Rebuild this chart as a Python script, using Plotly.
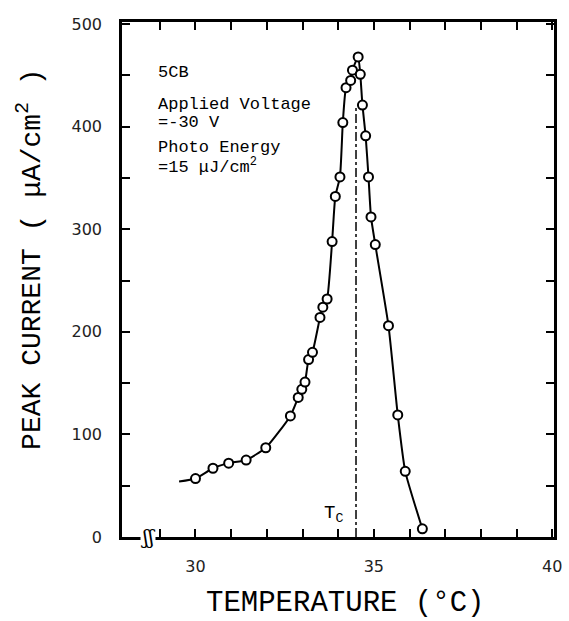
import plotly.graph_objects as go

# readings: temperature (deg C) vs peak current (uA/cm2)
temp_rise = [30.0, 30.49, 30.93, 31.42, 31.97, 32.66, 32.88, 32.98, 33.07, 33.17, 33.28,
             33.49, 33.57, 33.69, 33.83, 33.92, 34.05, 34.13, 34.22, 34.35, 34.40, 34.56]
current_rise = [57, 67, 72, 75, 87, 118, 136, 144, 151, 173, 180,
                214, 224, 232, 288, 332, 351, 404, 438, 445, 455, 468]
temp_fall = [34.62, 34.68, 34.77, 34.85, 34.92, 35.04, 35.41, 35.67, 35.88, 36.36]
current_fall = [451, 421, 391, 351, 312, 285, 206, 119, 64, 8]

# hand-drawn curve begins a little left of the first reading
curve_start_t = [29.54]
curve_start_i = [54]

tc = 34.5
tc_line_top = 420

info_lines = ["5CB", "Applied Voltage", "=-30 V", "Photo Energy", "=15 μJ/cm<sup>2</sup>"]
info_y = [453, 422, 404, 380, 362]

mono = "Liberation Mono"

fig = go.Figure()

fig.add_trace(go.Scatter(
    x=curve_start_t + temp_rise + temp_fall,
    y=curve_start_i + current_rise + current_fall,
    mode="lines",
    line=dict(color="black", width=2, shape="spline", smoothing=0.5),
    hoverinfo="skip",
))
fig.add_trace(go.Scatter(
    x=temp_rise + temp_fall,
    y=current_rise + current_fall,
    mode="markers",
    marker=dict(symbol="circle", size=9, color="white", line=dict(color="black", width=2)),
))

fig.add_shape(type="line", x0=tc, x1=tc, y0=0, y1=tc_line_top, xref="x", yref="y",
              line=dict(color="black", width=1.5, dash="dashdot"))

fig.add_annotation(x=33.88, y=22, text="T<sub>C</sub>", showarrow=False,
                   font=dict(family=mono, size=19, color="black"))

for txt, yv in zip(info_lines, info_y):
    fig.add_annotation(x=28.9, y=yv, text=txt, showarrow=False, xanchor="left", yanchor="middle",
                       font=dict(family=mono, size=17, color="black"))

# axis break mark
fig.add_annotation(x=28.66, y=0, text="ʃʃ", showarrow=False, bgcolor="white",
                   font=dict(family="DejaVu Serif", size=20, color="black"), borderpad=0)

# axis titles
fig.add_annotation(x=0.5155, y=-0.13, xref="paper", yref="paper", text="TEMPERATURE (°C)",
                   showarrow=False, xanchor="center", yanchor="middle",
                   font=dict(family=mono, size=29, color="black"))
fig.add_annotation(x=-0.213, y=0.54, xref="paper", yref="paper", text="PEAK CURRENT ( μA/cm<sup>2</sup> )",
                   textangle=-90, showarrow=False, xanchor="center", yanchor="middle",
                   font=dict(family=mono, size=28, color="black"))

axis_common = dict(
    showline=True, linecolor="black", linewidth=2.5, mirror="ticks",
    ticks="inside", ticklen=8, tickwidth=2, tickcolor="black",
    showgrid=False, zeroline=False,
    tickfont=dict(family="DejaVu Sans", size=16, color="#222"),
)

fig.update_xaxes(range=[27.94, 40.05], tickvals=[30, 35, 40], ticklabelstandoff=13,
                 minor=dict(tickvals=list(range(29, 40)), ticks="inside", ticklen=8,
                            tickwidth=2, tickcolor="black"),
                 **axis_common)
fig.update_yaxes(range=[0, 502], tickvals=[0, 100, 200, 300, 400, 500], ticklabelstandoff=14,
                 minor=dict(tickvals=[50, 150, 250, 350, 450], ticks="inside", ticklen=8,
                            tickwidth=2, tickcolor="black"),
                 **axis_common)

fig.update_layout(
    width=569, height=621,
    margin=dict(l=122, r=7, t=22, b=84),
    paper_bgcolor="white", plot_bgcolor="white",
    showlegend=False,
)

fig.write_html("out.html", config={"displayModeBar": False},
               post_script="document.body.style.margin='0px';document.body.style.overflow='hidden';")
